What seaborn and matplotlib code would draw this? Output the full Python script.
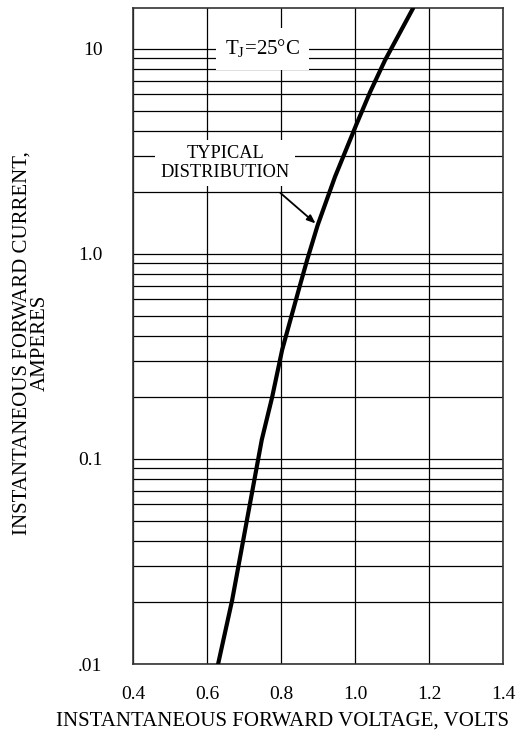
import numpy as np
import matplotlib
matplotlib.use("Agg")
import matplotlib.pyplot as plt
from matplotlib.ticker import FixedLocator, LogLocator, NullFormatter
import seaborn as sns

sns.set_style("white")
plt.rcParams['font.family'] = ['Liberation Serif', 'DejaVu Serif']
plt.rcParams['mathtext.fontset'] = 'custom'
plt.rcParams['mathtext.rm'] = 'Liberation Serif'
plt.rcParams['text.color'] = 'black'
plt.rcParams['axes.labelcolor'] = 'black'
plt.rcParams['xtick.color'] = 'black'
plt.rcParams['ytick.color'] = 'black'

# typical forward characteristic
forward_voltage = [0.630, 0.668, 0.748, 0.776, 0.803, 0.848, 0.871, 0.899,
                   0.946, 1.003, 1.041, 1.081, 1.157]
forward_current = [0.010, 0.0205, 0.124, 0.200, 0.34, 0.67, 0.94, 1.38,
                   2.38, 4.25, 6.17, 8.8, 15.8]

x_ticks = [0.4, 0.6, 0.8, 1.0, 1.2, 1.4]
x_tick_labels = ["0.4", "0.6", "0.8", "1.0", "1.2", "1.4"]
y_ticks = [0.01, 0.1, 1.0, 10]
y_tick_labels = [".01", "0.1", "1.0", "10"]

fig = plt.figure(figsize=(5.32, 7.44), dpi=100)
ax = fig.add_axes([0.25, 0.1075, 0.6955, 0.8815])

sns.lineplot(x=forward_voltage, y=forward_current, ax=ax, color="black",
             linewidth=3.0, sort=False, estimator=None, zorder=5)

ax.set_yscale("log")
ax.set_xlim(0.4, 1.4)
ax.set_ylim(0.01, 15.8)

ax.xaxis.set_major_locator(FixedLocator(x_ticks))
ax.set_xticklabels(x_tick_labels)
ax.yaxis.set_major_locator(FixedLocator(y_ticks))
ax.set_yticklabels(y_tick_labels)
ax.yaxis.set_minor_locator(LogLocator(base=10, subs=np.arange(2, 10)))
ax.yaxis.set_minor_formatter(NullFormatter())

ax.grid(True, which="major", axis="both", color="black", linewidth=0.9)
ax.grid(True, which="minor", axis="y", color="black", linewidth=0.9)
ax.tick_params(which="both", length=0)
ax.tick_params(axis="x", pad=16, labelsize=14)
ax.tick_params(axis="y", pad=22, labelsize=14)

for sp in ax.spines.values():
    sp.set_color("#333333")
    sp.set_linewidth(1.2)

ax.set_xlabel("INSTANTANEOUS FORWARD VOLTAGE, VOLTS", fontsize=15)
ax.xaxis.set_label_coords(0.403, -0.072)
ax.set_ylabel("INSTANTANEOUS FORWARD CURRENT,\nAMPERES", fontsize=15,
              multialignment="center", linespacing=1.0)
ax.yaxis.set_label_coords(-0.224, 0.49)

# annotations
ax.text(0.75, 10, r"T$_{\rm J}$=25°C", fontsize=15, ha="center", va="center", zorder=6,
        bbox=dict(boxstyle="square,pad=0.45", facecolor="white", edgecolor="none"))
ax.text(0.649, 2.78, "TYPICAL\nDISTRIBUTION", fontsize=13.2, ha="center", va="center",
        linespacing=1.1, zorder=6,
        bbox=dict(boxstyle="square,pad=0.3", facecolor="white", edgecolor="none"))
ax.annotate("", xy=(0.899, 1.38), xytext=(0.792, 2.03), zorder=7,
            arrowprops=dict(arrowstyle="-|>,head_length=0.5,head_width=0.2",
                            color="black", lw=1.3))

fig.savefig("out.png", dpi=100)
